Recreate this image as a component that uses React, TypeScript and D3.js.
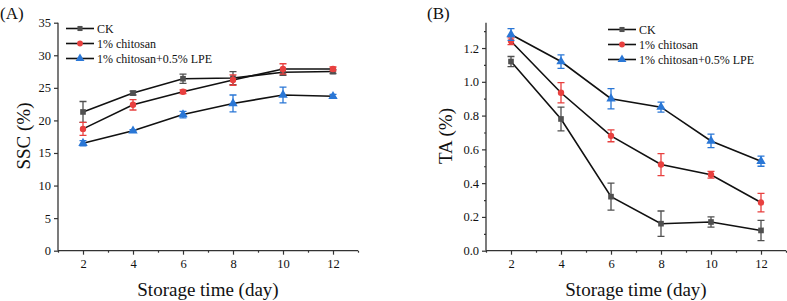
import React, { useRef, useEffect } from "react";
import * as d3 from "d3";

const days = [2, 4, 6, 8, 10, 12];
const seriesNames = ["CK", "1% chitosan", "1% chitosan+0.5% LPE"];

// SSC (%)
const sscCK = [21.3, 24.2, 26.4, 26.5, 27.4, 27.5];
const sscCKErr = [1.6, 0.3, 0.7, 1.0, 0.5, 0.3];
const sscChitosan = [18.7, 22.4, 24.4, 26.2, 27.9, 27.9];
const sscChitosanErr = [1.0, 0.8, 0.3, 0.8, 0.8, 0.3];
const sscLPE = [16.5, 18.4, 20.9, 22.6, 23.9, 23.7];
const sscLPEErr = [0.4, 0.2, 0.5, 1.3, 1.2, 0.3];

// TA (%)
const taCK = [1.12, 0.78, 0.32, 0.16, 0.17, 0.12];
const taCKErr = [0.03, 0.07, 0.08, 0.075, 0.03, 0.06];
const taChitosan = [1.24, 0.935, 0.68, 0.51, 0.45, 0.285];
const taChitosanErr = [0.02, 0.06, 0.035, 0.065, 0.02, 0.055];
const taLPE = [1.28, 1.12, 0.9, 0.85, 0.65, 0.53];
const taLPEErr = [0.035, 0.04, 0.06, 0.03, 0.04, 0.03];

const sscTicks = [0, 5, 10, 15, 20, 25, 30, 35];
const taTicks = [0, 0.2, 0.4, 0.6, 0.8, 1.0, 1.2];
const taMinor = [0.1, 0.3, 0.5, 0.7, 0.9, 1.1, 1.3];
const xTicks = [2, 4, 6, 8, 10, 12];
const xMinor = [1, 3, 5, 7, 9, 11, 13];

const colors = ["#505050", "#e8403f", "#2a77d6"];
const symbols = [d3.symbolSquare, d3.symbolCircle, d3.symbolTriangle];
const FONT = "'Liberation Serif', 'Times New Roman', serif";

export default function App() {
  const ref = useRef<SVGSVGElement>(null);

  useEffect(() => {
    const svg = d3.select(ref.current);
    svg.selectAll("*").remove();

    const panel = (opts: any) => {
      const { x0, yMax, ticks, minor, fmt, vals, errs, title, label, labelX, legendX, ySize } = opts;
      const x = d3.scaleLinear().domain([1, 13]).range([x0, x0 + 300]);
      const y = d3.scaleLinear().domain([0, yMax]).range([250.7, 22.7]);
      const g = svg.append("g");

      // axes
      const ax = g
        .append("g")
        .attr("transform", "translate(0,250.7)")
        .call(d3.axisBottom(x).tickValues(xTicks).tickSize(4).tickPadding(4).tickFormat(d3.format("d")));
      g.append("g")
        .attr("transform", "translate(0,250.7)")
        .call(d3.axisBottom(x).tickValues(xMinor).tickSize(2).tickFormat(() => ""))
        .select(".domain")
        .remove();
      const ay = g
        .append("g")
        .attr("transform", `translate(${x0},0)`)
        .call(d3.axisLeft(y).tickValues(ticks).tickSize(4).tickPadding(3).tickFormat(fmt));
      if (minor) {
        g.append("g")
          .attr("transform", `translate(${x0},0)`)
          .call(d3.axisLeft(y).tickValues(minor).tickSize(2).tickFormat(() => ""))
          .select(".domain")
          .remove();
      }
      g.selectAll(".domain").attr("stroke", "#333").attr("stroke-width", 1.3);
      g.selectAll(".tick line").attr("stroke", "#333").attr("stroke-width", 1.2);
      [ax, ay].forEach((a) =>
        a.selectAll("text").attr("font-family", FONT).attr("font-size", 12.5).attr("fill", "#111")
      );
      ax.selectAll(".domain").attr("d", `M${x0},0H${x0 + 300}`);
      ay.selectAll(".domain").attr("d", `M0,${y(yMax)}V250.7`);

      // titles
      g.append("text")
        .attr("x", x0 + 150)
        .attr("y", 296)
        .attr("text-anchor", "middle")
        .attr("font-family", FONT)
        .attr("font-size", 19)
        .attr("fill", "#111")
        .text("Storage time (day)");
      g.append("text")
        .attr("transform", `translate(${labelX},136) rotate(-90)`)
        .attr("text-anchor", "middle")
        .attr("font-family", FONT)
        .attr("font-size", ySize)
        .attr("fill", "#111")
        .text(title);
      g.append("text")
        .attr("x", opts.tagX)
        .attr("y", 19)
        .attr("font-family", FONT)
        .attr("font-size", 17)
        .attr("fill", "#111")
        .text(label);

      const line = d3
        .line<number>()
        .x((_, i) => x(days[i]))
        .y((d) => y(d));

      vals.forEach((v: number[]) => {
        g.append("path")
          .datum(v)
          .attr("d", line)
          .attr("fill", "none")
          .attr("stroke", "#111")
          .attr("stroke-width", 1.6);
      });

      vals.forEach((v: number[], s: number) => {
        const c = colors[s];
        v.forEach((d, i) => {
          const cx = x(days[i]);
          const e = errs[s][i];
          const top = y(d + e);
          const bot = y(d - e);
          g.append("path")
            .attr("d", `M${cx},${top}V${bot}M${cx - 3.5},${top}H${cx + 3.5}M${cx - 3.5},${bot}H${cx + 3.5}`)
            .attr("stroke", c)
            .attr("stroke-width", 1.3)
            .attr("fill", "none");
          g.append("path")
            .attr("transform", `translate(${cx},${y(d)})`)
            .attr("d", d3.symbol(symbols[s], s === 2 ? 38 : 32)())
            .attr("fill", c);
        });
      });

      // legend
      seriesNames.forEach((name, s) => {
        const ly = opts.legendY + s * 15;
        g.append("line")
          .attr("x1", legendX)
          .attr("x2", legendX + 28)
          .attr("y1", ly)
          .attr("y2", ly)
          .attr("stroke", "#111")
          .attr("stroke-width", 1.6);
        g.append("path")
          .attr("transform", `translate(${legendX + 14},${ly})`)
          .attr("d", d3.symbol(symbols[s], s === 2 ? 34 : 26)())
          .attr("fill", colors[s]);
        g.append("text")
          .attr("x", legendX + 31)
          .attr("y", ly + 4)
          .attr("font-family", FONT)
          .attr("font-size", 12)
          .attr("fill", "#111")
          .text(name);
      });
    };

    panel({
      x0: 58,
      yMax: 35,
      ticks: sscTicks,
      minor: null,
      fmt: d3.format("d"),
      vals: [sscCK, sscChitosan, sscLPE],
      errs: [sscCKErr, sscChitosanErr, sscLPEErr],
      title: "SSC (%)",
      label: "(A)",
      tagX: 0,
      labelX: 30,
      ySize: 19,
      legendX: 66,
      legendY: 28.5,
    });

    panel({
      x0: 486,
      yMax: 1.35,
      ticks: taTicks,
      minor: taMinor,
      fmt: d3.format(".1f"),
      vals: [taCK, taChitosan, taLPE],
      errs: [taCKErr, taChitosanErr, taLPEErr],
      title: "TA (%)",
      label: "(B)",
      tagX: 427,
      labelX: 452,
      ySize: 19,
      legendX: 608,
      legendY: 29.5,
    });
  }, []);

  return (
    <svg
      ref={ref}
      width={787}
      height={301}
      style={{ position: "absolute", left: 0, top: 0, background: "#fff" }}
    ></svg>
  );
}
